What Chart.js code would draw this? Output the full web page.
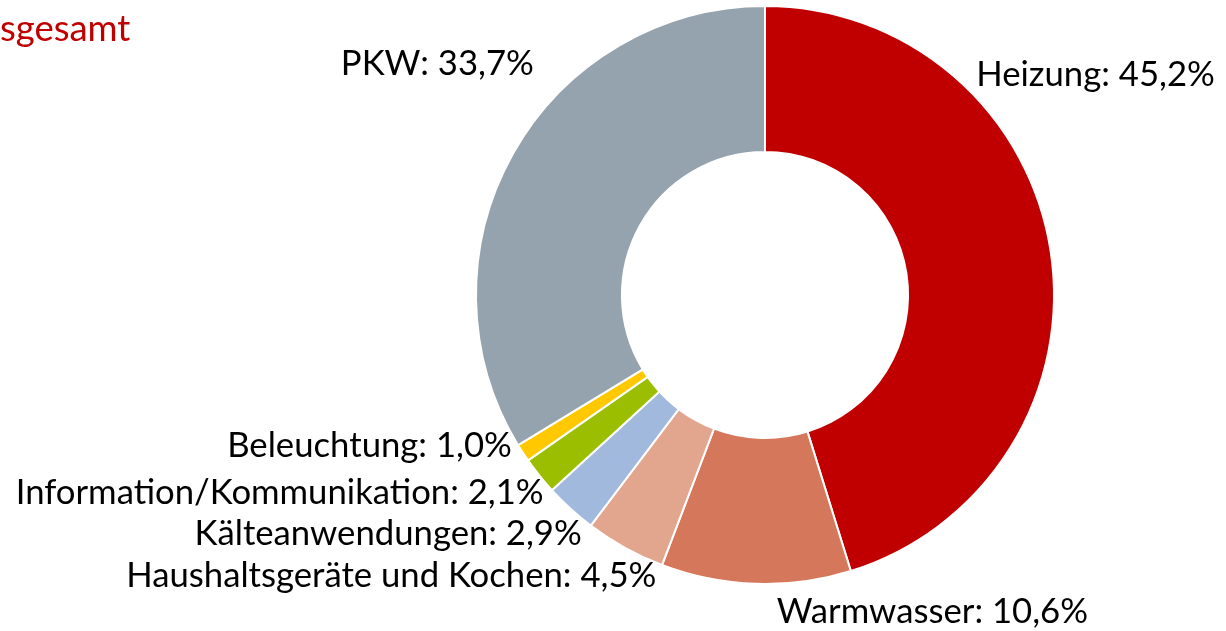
<!DOCTYPE html>
<html>
<head>
<meta charset="utf-8">
<script src="https://cdn.jsdelivr.net/npm/chart.js@4"></script>
<style>
  html, body { margin: 0; padding: 0; background: #fff; }
  #wrap { width: 1226px; height: 631px; position: relative; }
</style>
</head>
<body>
<div id="wrap"><canvas id="mainChart"></canvas></div>
<script>
// ==================== Daten ====================
const categories = [
    'Heizung',
    'Warmwasser',
    'Haushaltsgeräte und Kochen',
    'Kälteanwendungen',
    'Information/Kommunikation',
    'Beleuchtung',
    'PKW'
];
const shares = [45.2, 10.6, 4.5, 2.9, 2.1, 1.0, 33.7];
const sliceColors = ['#c00000', '#d5775b', '#e2a58d', '#a2b9de', '#9bbf00', '#ffc800', '#95a3ae'];
const titleText = 'insgesamt';

// label anchors, in units of the outer radius from the centre (layout only)
const labelLayout = [
    { dx: 0.731, dy: -0.724, align: 'left' },
    { dx: 0.041, dy: 1.134, align: 'left' },
    { dx: -0.376, dy: 1.010, align: 'right' },
    { dx: -0.634, dy: 0.866, align: 'right' },
    { dx: -0.766, dy: 0.724, align: 'right' },
    { dx: -0.876, dy: 0.559, align: 'right' },
    { dx: -0.800, dy: -0.762, align: 'right' }
];

const FONT = '"Lato", "Open Sans", sans-serif';

function fmt(v) {
    return v.toFixed(1).replace('.', ',') + '%';
}

// Beschriftungen außen an den Segmenten
const outsideLabels = {
    id: 'outsideLabels',
    afterDatasetsDraw(chart) {
        const ctx = chart.ctx;
        const meta = chart.getDatasetMeta(0);
        ctx.save();
        ctx.font = '34.7px ' + FONT;
        ctx.fillStyle = '#000';
        ctx.textBaseline = 'alphabetic';
        meta.data.forEach((arc, i) => {
            const lay = labelLayout[i];
            const r = arc.outerRadius;
            ctx.textAlign = lay.align;
            ctx.fillText(categories[i] + ': ' + fmt(shares[i]), arc.x + lay.dx * r, arc.y + lay.dy * r);
        });
        ctx.restore();
    }
};

// abgeschnittener Titel oben links
const cutTitle = {
    id: 'cutTitle',
    afterDraw(chart) {
        const ctx = chart.ctx;
        ctx.save();
        ctx.font = '36.5px ' + FONT;
        ctx.fillStyle = '#c00000';
        ctx.textAlign = 'left';
        ctx.textBaseline = 'alphabetic';
        const off = ctx.measureText('in').width;
        ctx.fillText(titleText, -off, 41);
        ctx.restore();
    }
};

const ctx = document.getElementById('mainChart').getContext('2d');
const mainChart = new Chart(ctx, {
    type: 'doughnut',
    data: {
        labels: categories,
        datasets: [{
            data: shares,
            backgroundColor: sliceColors,
            borderColor: '#ffffff',
            borderWidth: 2
        }]
    },
    options: {
        responsive: true,
        maintainAspectRatio: false,
        animation: false,
        cutout: '49.5%',
        layout: {
            padding: { left: 475, right: 171, top: 5, bottom: 46 }
        },
        plugins: {
            legend: { display: false },
            tooltip: { enabled: false }
        }
    },
    plugins: [outsideLabels, cutTitle]
});
</script>
</body>
</html>
